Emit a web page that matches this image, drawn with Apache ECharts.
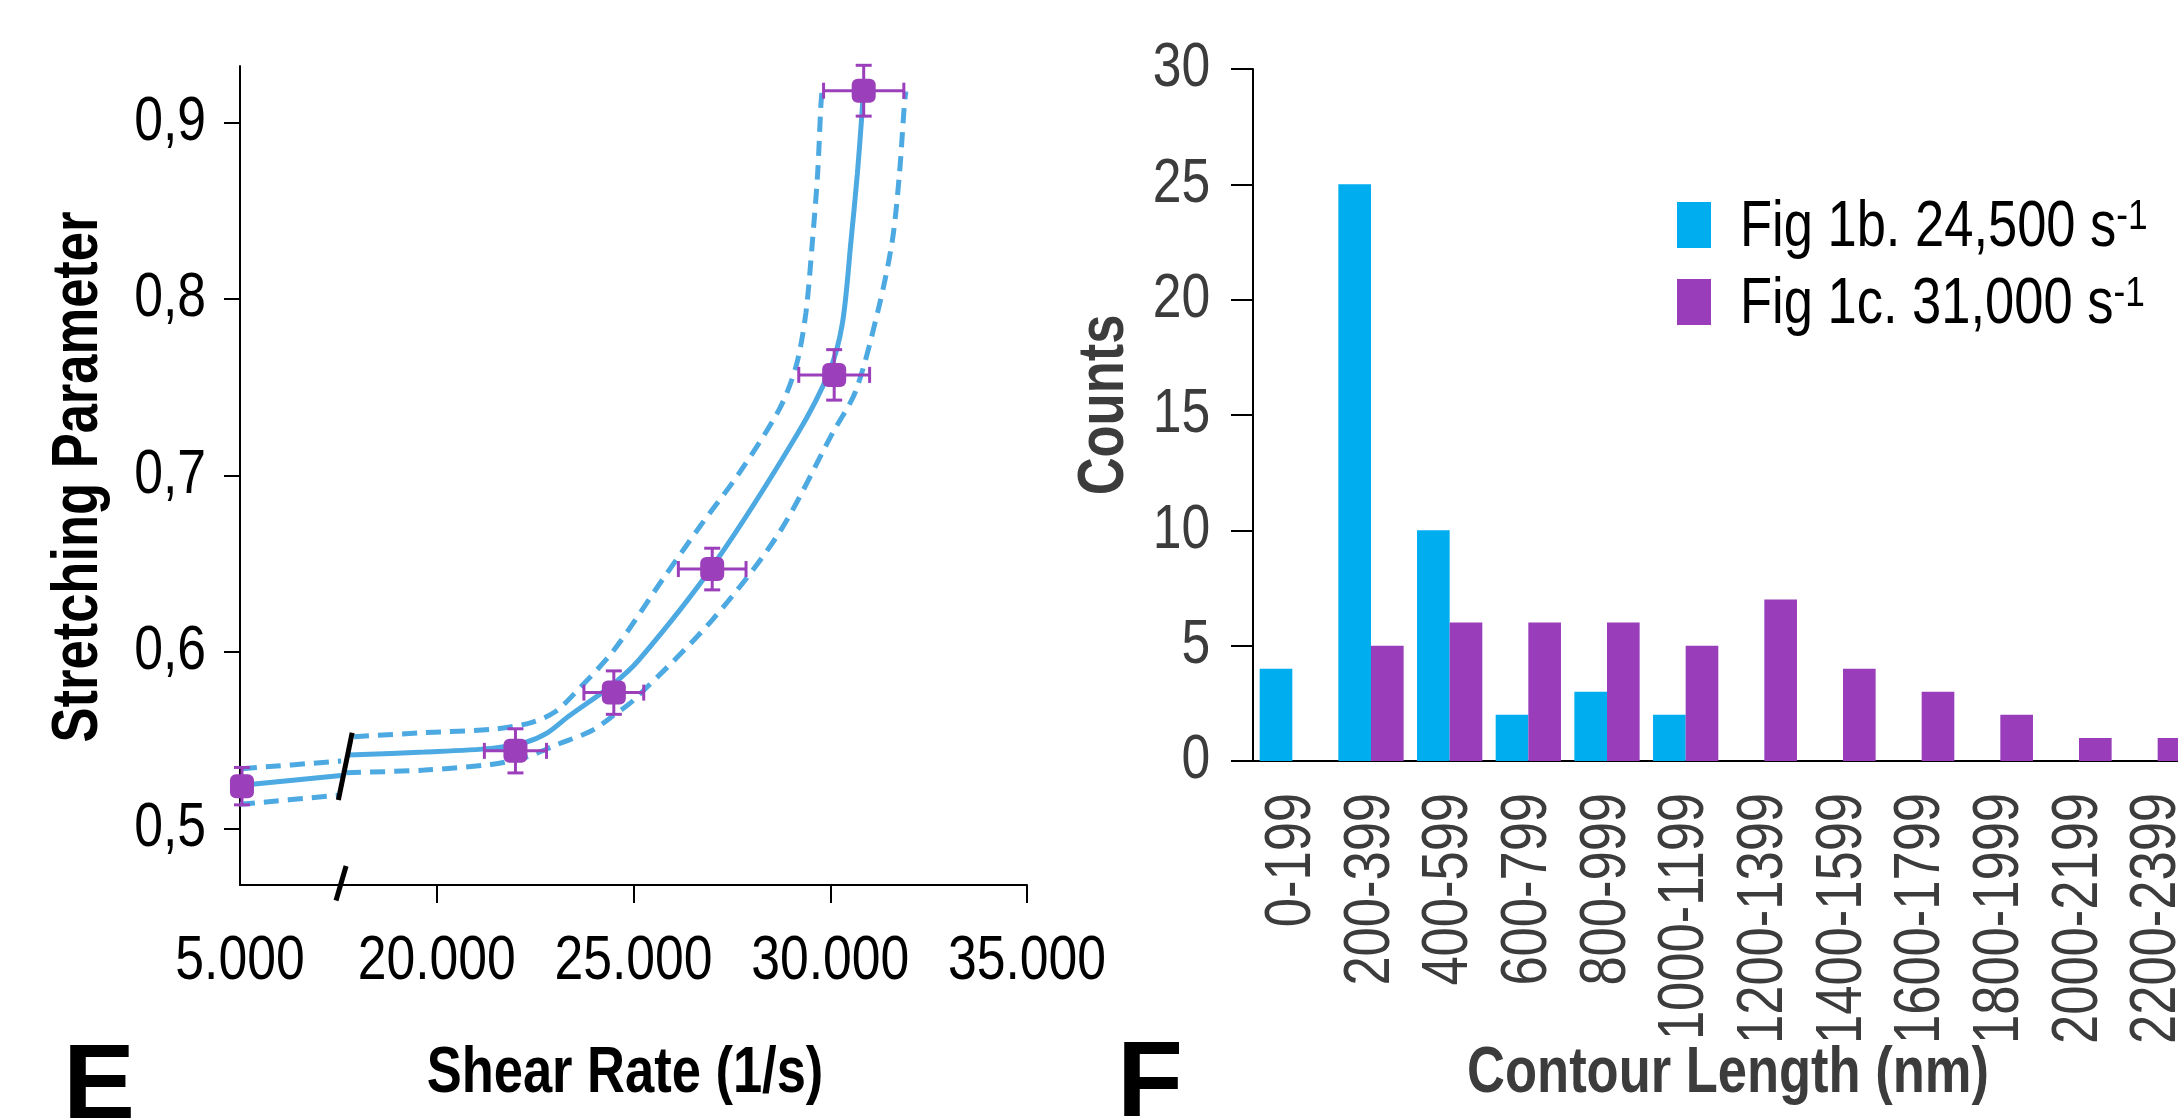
<!DOCTYPE html>
<html>
<head>
<meta charset="utf-8">
<title>Stretching parameter and contour length</title>
<script src="https://cdn.jsdelivr.net/npm/echarts@6.0.0/dist/echarts.min.js"></script>
<style>
  html, body { margin: 0; padding: 0; background: #fff; }
  #chart { width: 2178px; height: 1118px; }
</style>
</head>
<body>
<div id="chart"></div>
<script>
// ---- panel E : stretching parameter vs shear rate ----
const shearRate = [5050, 22000, 24500, 27000, 30100, 30850];
const stretching = [0.524, 0.544, 0.577, 0.647, 0.757, 0.918];
const shearErr = [0, 790, 760, 860, 900, 1020];
const stretchErr = [0.0106, 0.0125, 0.0123, 0.0118, 0.0143, 0.0144];

// fit curve and confidence band (shear rate, stretching)
const fitLeft = [[5050, 0.5245], [7570, 0.5301]];
const fitRight = [[17750, 0.5416], [19690, 0.5433], [21380, 0.5454], [22230, 0.5486], [22800, 0.5540],
  [23360, 0.5637], [24450, 0.5812], [25150, 0.5958], [27010, 0.6486], [29130, 0.7222], [29980, 0.7591],
  [30310, 0.7864], [30530, 0.8335], [30690, 0.8713], [30800, 0.9033], [30840, 0.9185]];
const upperLeft = [[5050, 0.5339], [7570, 0.5382]];
const upperRight = [[17900, 0.5520], [19690, 0.5543], [21400, 0.5562], [22400, 0.5600], [23000, 0.5660],
  [23480, 0.5760], [24500, 0.6010], [25740, 0.6411], [26700, 0.6715], [27690, 0.7015], [28700, 0.7373],
  [29130, 0.7618], [29380, 0.7920], [29550, 0.8335], [29680, 0.8713], [29760, 0.9090], [29790, 0.9175]];
const lowerLeft = [[5000, 0.5137], [7480, 0.5188]];
const lowerRight = [[17700, 0.5316], [19690, 0.5331], [21380, 0.5363], [22230, 0.5401], [23070, 0.5477],
  [23920, 0.5552], [24470, 0.5637], [25020, 0.5731], [27010, 0.6184], [28700, 0.6675], [30060, 0.7241],
  [30650, 0.7480], [31240, 0.7958], [31580, 0.8335], [31760, 0.8713], [31880, 0.9090], [31920, 0.9175]];

// axis break: 5.000 is drawn where 15.000 would sit
const breakShift = 10000;
const breakMarkCurve = [[17850, 0.5543], [17500, 0.5161]];
const breakMarkAxis = [[17696, 0.4788], [17440, 0.4592]];
const shearTicks = [15000, 20000, 25000, 30000, 35000];
const stretchTicks = [0.5, 0.6, 0.7, 0.8, 0.9];

// ---- panel F : contour length histogram ----
const lengthBins = ['0-199', '200-399', '400-599', '600-799', '800-999', '1000-1199', '1200-1399',
  '1400-1599', '1600-1799', '1800-1999', '2000-2199', '2200-2399'];
const counts1b = [4, 25, 10, 2, 3, 2, 0, 0, 0, 0, 0, 0];
const counts1c = [0, 5, 6, 6, 6, 5, 7, 4, 3, 2, 1, 1];
const countTicks = [0, 5, 10, 15, 20, 25, 30];
const legendNames = ['Fig 1b. 24,500 s', 'Fig 1c. 31,000 s'];

const sans = "'Liberation Sans', Arial, sans-serif";
const lineBlue = '#4ca9e1';
const purple = '#9b3fbb';
const grayText = '#3c3c3c';

function bx(v) { return v < 10000 ? v + breakShift : v; }
function shifted(arr) { return arr.map(p => [bx(p[0]), p[1]]); }

function curve(data, dashed) {
  return {
    type: 'line', xAxisIndex: 0, yAxisIndex: 0,
    data: shifted(data), smooth: 0.3,
    symbol: 'none', silent: true, z: 2,
    lineStyle: { color: lineBlue, width: 5, type: dashed ? [15, 9] : 'solid' }
  };
}

function breakMark(data) {
  return {
    type: 'line', xAxisIndex: 0, yAxisIndex: 0, data: data,
    symbol: 'none', silent: true, clip: false, z: 6,
    lineStyle: { color: '#000', width: 5 }
  };
}

// narrow text: the figure uses a condensed face, so squeeze Liberation Sans
function txt(text, x, y, o) {
  return {
    type: 'text', x: x, y: y, rotation: o.rot || 0, scaleX: o.sx || 1, silent: true, z: 20,
    style: {
      text: text, fontFamily: sans, fontSize: o.fs, fontWeight: o.fw || 'normal',
      fill: o.fill || '#000', align: o.align || 'center', verticalAlign: 'middle', rich: o.rich
    }
  };
}

const chart = echarts.init(document.getElementById('chart'));

chart.setOption({
  animation: false,
  backgroundColor: '#fff',
  grid: [
    { left: 240, top: 66, width: 787, height: 819, outerBoundsMode: 'none' },
    { left: 1253, top: 69, width: 944, height: 692, outerBoundsMode: 'none' }
  ],
  xAxis: [
    {
      type: 'value', gridIndex: 0, min: 15000, max: 35000,
      axisLine: { lineStyle: { color: '#000', width: 2 } },
      axisTick: { length: 18, lineStyle: { color: '#000', width: 2 }, customValues: shearTicks.slice(1) },
      axisLabel: { show: false },
      splitLine: { show: false }
    },
    {
      type: 'category', gridIndex: 1, data: lengthBins,
      axisLine: { lineStyle: { color: '#000', width: 2 } },
      axisTick: { length: 19, lineStyle: { color: '#000', width: 2 } },
      axisLabel: { show: false }
    }
  ],
  yAxis: [
    {
      type: 'value', gridIndex: 0, min: 0.468, max: 0.932,
      axisLine: { show: true, lineStyle: { color: '#000', width: 2 } },
      axisTick: { show: true, length: 16, lineStyle: { color: '#000', width: 2 }, customValues: stretchTicks },
      axisLabel: { show: false },
      splitLine: { show: false }
    },
    {
      type: 'value', gridIndex: 1, min: 0, max: 30, interval: 5,
      axisLine: { show: true, lineStyle: { color: '#000', width: 2 } },
      axisTick: { show: true, length: 22, lineStyle: { color: '#000', width: 2 } },
      axisLabel: { show: false },
      splitLine: { show: false }
    }
  ],
  legend: {
    left: 1677, top: 202, orient: 'vertical', padding: 0,
    itemWidth: 34, itemHeight: 46, itemGap: 31, icon: 'rect',
    selectedMode: false, formatter: () => '',
    data: legendNames
  },
  series: [
    curve(upperLeft, true), curve(upperRight, true),
    curve(lowerLeft, true), curve(lowerRight, true),
    curve(fitLeft, false), curve(fitRight, false),
    breakMark(breakMarkCurve), breakMark(breakMarkAxis),
    {
      type: 'custom', xAxisIndex: 0, yAxisIndex: 0, silent: true, z: 8,
      data: shearRate.map((s, i) => [bx(s), stretching[i], shearErr[i], stretchErr[i]]),
      encode: { x: 0, y: 1 },
      renderItem: (params, api) => {
        const x = api.value(0), y = api.value(1), ex = api.value(2), ey = api.value(3);
        const c = api.coord([x, y]);
        const t = api.coord([x, y + ey]), b = api.coord([x, y - ey]);
        const l = api.coord([x - ex, y]), r = api.coord([x + ex, y]);
        const cap = 8;
        const st = { stroke: purple, lineWidth: 3 };
        const kids = [
          { type: 'line', shape: { x1: c[0], y1: t[1], x2: c[0], y2: b[1] }, style: st },
          { type: 'line', shape: { x1: c[0] - cap, y1: t[1], x2: c[0] + cap, y2: t[1] }, style: st },
          { type: 'line', shape: { x1: c[0] - cap, y1: b[1], x2: c[0] + cap, y2: b[1] }, style: st }
        ];
        if (ex > 0) {
          kids.push(
            { type: 'line', shape: { x1: l[0], y1: c[1], x2: r[0], y2: c[1] }, style: st },
            { type: 'line', shape: { x1: l[0], y1: c[1] - cap, x2: l[0], y2: c[1] + cap }, style: st },
            { type: 'line', shape: { x1: r[0], y1: c[1] - cap, x2: r[0], y2: c[1] + cap }, style: st }
          );
        }
        return { type: 'group', children: kids };
      }
    },
    {
      type: 'scatter', xAxisIndex: 0, yAxisIndex: 0, silent: true, z: 10,
      symbol: 'roundRect', symbolSize: 24,
      itemStyle: { color: purple, opacity: 1 },
      data: shearRate.map((s, i) => [bx(s), stretching[i]])
    },
    {
      name: legendNames[0], type: 'bar', xAxisIndex: 1, yAxisIndex: 1,
      data: counts1b, barGap: '0%', barCategoryGap: '17%',
      itemStyle: { color: '#00adef' }
    },
    {
      name: legendNames[1], type: 'bar', xAxisIndex: 1, yAxisIndex: 1,
      data: counts1c, barGap: '0%', barCategoryGap: '17%',
      itemStyle: { color: '#9a3dba' }
    }
  ]
});

// tick labels, axis names and legend text placed from the axes' own scales
const labels = [];
stretchTicks.forEach(v => {
  const p = chart.convertToPixel({ gridIndex: 0 }, [15000, v]);
  labels.push(txt(v.toFixed(1).replace('.', ','), p[0] - 34, p[1], { fs: 63, sx: 0.82, align: 'right' }));
});
shearTicks.forEach(v => {
  const p = chart.convertToPixel({ gridIndex: 0 }, [v, 0.468]);
  labels.push(txt((v === 15000 ? 5 : v / 1000).toFixed(3), p[0], p[1] + 77, { fs: 63, sx: 0.82 }));
});
countTicks.forEach(v => {
  const p = chart.convertToPixel({ gridIndex: 1 }, [0, v]);
  labels.push(txt(String(v), p[0] - 82, p[1], { fs: 63, sx: 0.82, align: 'right', fill: grayText }));
});
lengthBins.forEach((c, i) => {
  const p = chart.convertToPixel({ gridIndex: 1 }, [i, 0]);
  labels.push(txt(c, p[0], p[1] + 32, { fs: 64, sx: 0.82, align: 'right', rot: Math.PI / 2, fill: grayText }));
});

const nameStyle = { fs: 64, sx: 0.82, fw: 'bold' };
labels.push(txt('Stretching Parameter', 79, 477, Object.assign({ rot: Math.PI / 2 }, nameStyle)));
labels.push(txt('Shear Rate (1/s)', 625, 1074, nameStyle));
labels.push(txt('Counts', 1105, 405, Object.assign({ rot: Math.PI / 2, fill: grayText }, nameStyle)));
labels.push(txt('Contour Length (nm)', 1728, 1074, Object.assign({ fill: grayText }, nameStyle)));

const supRich = {
  t: { fontFamily: sans, fontSize: 64, lineHeight: 64, fill: '#000' },
  s: { fontFamily: sans, fontSize: 43, lineHeight: 38, fill: '#000', verticalAlign: 'top' }
};
legendNames.forEach((n, i) => {
  labels.push(txt('{t|' + n + '}{s|-1}', 1740, 228 + i * 77, { fs: 64, sx: 0.82, align: 'left', rich: supRich }));
});

// panel letters, cut by the bottom edge
labels.push(txt('E', 63, 1089, { fs: 108, fw: 'bold', align: 'left' }));
labels.push(txt('F', 1117, 1086, { fs: 108, fw: 'bold', align: 'left' }));

chart.setOption({ graphic: labels });
</script>
</body>
</html>
